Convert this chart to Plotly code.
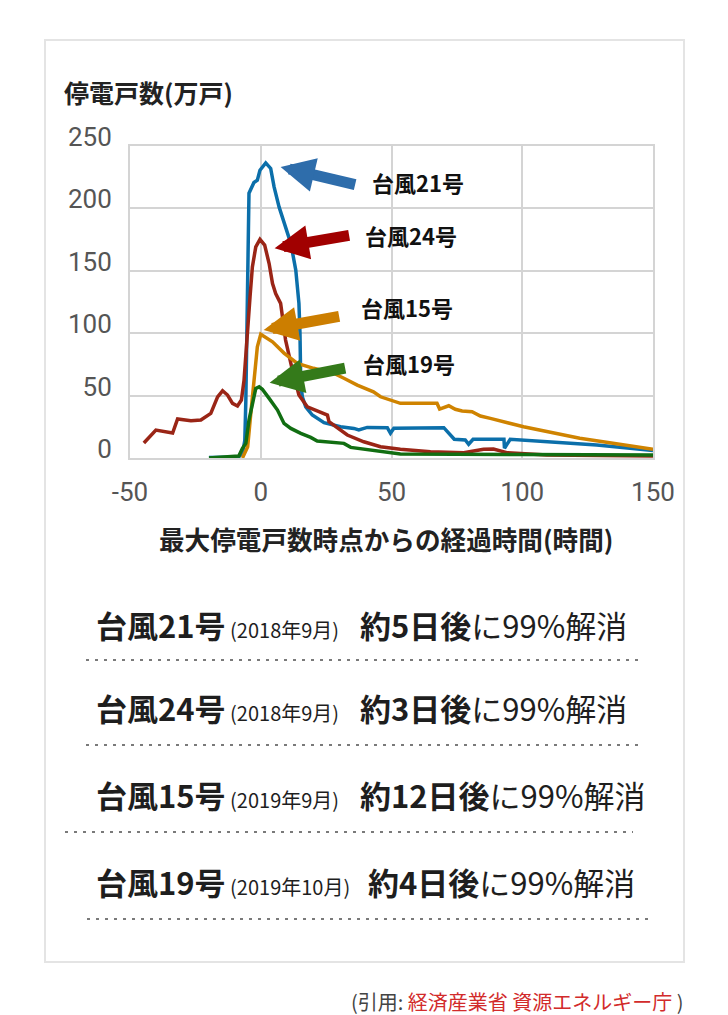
import plotly.graph_objects as go

W, H = 728, 1015

# 台風21号 (2018)
t21_hours = [-19.8, -8.4, -6.9, -6.1, -5.7, -5.3, -4.5, -2.6, -1.3, -0.3, 1.9, 3.8, 5.1, 7.0, 8.9,
             11.5, 13.4, 14.6, 15.0, 15.3, 15.9, 17.2, 19.7, 24.2, 30.5, 35.6, 37.5, 40.7, 48.4,
             49.6, 50.9, 70.0, 74.0, 78.2, 79.5, 81.2, 93.0, 93.2, 95.4, 109.4, 128.5, 150]
t21_outage = [0.4, 0.8, 4.8, 14, 46, 121, 212, 220.6, 222.4, 230.4, 236.2, 231.8, 217, 201, 187.8,
              171.8, 150.4, 123.8, 99.8, 59.8, 49, 41, 34.4, 28.3, 25, 23.7, 22.4, 24.5, 24.3,
              19.8, 23.8, 24.3, 15, 14.4, 11, 15, 15, 7.8, 15, 13, 10.4, 5.9]

# 台風24号 (2018)
t24_hours = [-44.7, -40.1, -33.7, -31.8, -26.7, -22.9, -19.1, -16.5, -14.6, -12.7, -10.8, -8.9,
             -7.4, -6.4, -4.1, -3.2, -1.9, -0.3, 1.5, 3.2, 4.5, 5.7, 7.6, 9.5, 12.1, 14.6, 17.8,
             22.3, 25.5, 26.1, 29.3, 33.1, 39.4, 45.8, 53.4, 64.9, 77.6, 85.2, 89.0, 94.1, 109.4, 150]
t24_outage = [12, 22.4, 20, 31.2, 29.8, 30.4, 35.7, 49, 53.8, 50.4, 43.7, 41.6,
              46.4, 62, 129, 153, 169, 175, 170.4, 155.7, 139.7, 131.7, 123.8, 94.4, 70.4, 50.4, 41,
              37, 34.4, 29, 23.8, 18.4, 13, 9, 7, 5, 4.3, 7, 7.2, 4.3, 2.4, 1.6]

# 台風15号 (2019)
t15_hours = [-7.0, -5.0, -3.8, -2.8, -1.9, -1.3, 0.0, 4.5, 8.9, 14.0, 20.2, 27.9, 31.8, 36.9, 43.1,
             45.8, 53.4, 67.4, 68.4, 69.5, 71.9, 74.4, 77.0, 80.8, 84.0, 87.8, 100.5, 122.0, 150]
t15_outage = [0, 9, 35.7, 57, 81, 89, 99, 93, 84, 75.8, 71.8, 67.8, 63.8, 58.4, 53,
              49, 43.8, 43.8, 39.2, 40, 41.8, 39, 37.6, 37, 33.6, 31.7, 25, 15.8, 7]

# 台風19号 (2019)
t19_hours = [-19.8, -8.4, -7.0, -5.7, -4.5, -3.2, -1.9, -0.6, 0.6, 3.2, 6.4, 8.9, 11.5, 15.3, 19.1,
             21.6, 28.0, 31.8, 34.4, 43.3, 53.4, 100, 150]
t19_outage = [0, 1.6, 7.8, 11.7, 30.4, 43.7, 55.7, 57, 55, 47.7, 38.4, 27.7, 23.7, 19.7, 16.5,
              13.6, 12.3, 11.7, 8.5, 5.9, 3.2, 2.8, 2.5]

x_ticks = [-50, 0, 50, 100, 150]
x_ticktext = ["-50", "0", "50", "100", "150"]
y_ticks = [0, 50, 100, 150, 200, 250]

summary_names = ["台風21号", "台風24号", "台風15号", "台風19号"]
summary_dates = ["(2018年9月)", "(2018年9月)", "(2019年9月)", "(2019年10月)"]
summary_days = ["約5日後", "約3日後", "約12日後", "約4日後"]


def fx(p):
    return p / W


def fy(p):
    return 1 - p / H


series = [
    (t21_hours, t21_outage, "#0b6faa", "台風21号"),
    (t24_hours, t24_outage, "#9a2516", "台風24号"),
    (t15_hours, t15_outage, "#cf8300", "台風15号"),
    (t19_hours, t19_outage, "#116e12", "台風19号"),
]

fig = go.Figure()
for xs, ys, col, name in series:
    fig.add_trace(go.Scatter(x=xs, y=ys, mode="lines", name=name,
                             line=dict(color=col, width=3.5), hoverinfo="skip"))

grid = "#d4d4d4"
tick_font = dict(family="Roboto", size=26, color="#555555")
fig.update_layout(
    width=W, height=H,
    margin=dict(l=0, r=0, t=0, b=0, autoexpand=False),
    paper_bgcolor="white", plot_bgcolor="rgba(0,0,0,0)",
    showlegend=False,
    xaxis=dict(domain=[fx(130), fx(653)], range=[-50, 150], tickvals=x_ticks, ticktext=x_ticktext,
               showgrid=True, gridcolor=grid, gridwidth=2, zeroline=False, automargin=False,
               showline=True, mirror=True, linecolor=grid, linewidth=2,
               ticks="", ticklabelstandoff=10, tickfont=tick_font),
    yaxis=dict(domain=[fy(458), fy(145.7)], range=[0, 250], tickvals=y_ticks,
               showgrid=True, gridcolor=grid, gridwidth=2, zeroline=False, automargin=False,
               showline=True, mirror=True, linecolor=grid, linewidth=2,
               ticks="", ticklabelstandoff=11, ticklabelshift=-9, tickfont=tick_font),
)

cjk = "Noto Sans CJK JP"

# card
fig.add_shape(type="rect", xref="paper", yref="paper",
              x0=fx(45), x1=fx(684), y0=fy(962), y1=fy(40),
              line=dict(color="#e4e4e4", width=2), fillcolor="rgba(0,0,0,0)", layer="below")

# titles
fig.add_annotation(xref="paper", yref="paper", x=fx(62), y=fy(92), xanchor="left", yanchor="middle",
                   text="<b>停電戸数(万戸)</b>", showarrow=False,
                   font=dict(family=cjk, size=25, color="#222222"))
fig.add_annotation(xref="paper", yref="paper", x=fx(157), y=fy(538), xanchor="left", yanchor="middle",
                   text="<b>最大停電戸数時点からの経過時間(時間)</b>", showarrow=False,
                   font=dict(family=cjk, size=25.6, color="#222222"))

# arrows: tip (hours, outage), tail offset in pixels
arrows = [
    (7.6, 233, 76, 18, "#2e6dab", 370, 182, "台風21号"),
    (5.3, 168, 76, -13, "#a10000", 363, 235, "台風24号"),
    (1.1, 102.4, 77, -14, "#cc7e00", 359, 307, "台風15号"),
    (3.4, 60.2, 77, -15, "#347a1a", 361, 363, "台風19号"),
]
for tx, ty, ax, ay, col, lx, ly, label in arrows:
    fig.add_annotation(x=tx, y=ty, xref="x", yref="y", ax=ax, ay=ay, text="",
                       showarrow=True, arrowhead=2, arrowsize=0.62, arrowwidth=11,
                       arrowcolor=col, standoff=0)
    fig.add_annotation(xref="paper", yref="paper", x=fx(lx), y=fy(ly), xanchor="left",
                       yanchor="middle", text="<b>" + label + "</b>", showarrow=False,
                       font=dict(family=cjk, size=22, color="#111111"))

# summary rows
row_y = [624, 707, 794, 881]
right_x = [358, 358, 358, 366]
line_y = [660, 745, 832, 919]
line_x = [(86, 644), (86, 644), (65, 633), (87, 648)]
for i in range(4):
    fig.add_annotation(xref="paper", yref="paper", x=fx(94), y=fy(row_y[i]), xanchor="left",
                       yanchor="middle", showarrow=False,
                       text="<b>" + summary_names[i] + "</b><span style='font-size:20px'> "
                            + summary_dates[i] + "</span>",
                       font=dict(family=cjk, size=31, color="#1e1e1e"))
    fig.add_annotation(xref="paper", yref="paper", x=fx(right_x[i]), y=fy(row_y[i]), xanchor="left",
                       yanchor="middle", showarrow=False,
                       text="<b>" + summary_days[i] + "</b>に99%解消",
                       font=dict(family=cjk, size=31, color="#1e1e1e"))
    x0, x1 = line_x[i]
    fig.add_shape(type="line", xref="paper", yref="paper", x0=fx(x0), x1=fx(x1),
                  y0=fy(line_y[i]), y1=fy(line_y[i]),
                  line=dict(color="#7a7a7a", width=2, dash="3px,6px"))

# source
fig.add_annotation(xref="paper", yref="paper", x=fx(686), y=fy(1001), xanchor="right",
                   yanchor="middle", showarrow=False,
                   text="(引用: <span style='color:#d22b2b'>経済産業省 資源エネルギー庁</span> )",
                   font=dict(family=cjk, size=20, color="#444444"))

fig.write_html("out.html", config={"displayModeBar": False},
               post_script="document.body.style.margin='0';document.body.style.overflow='hidden';")
